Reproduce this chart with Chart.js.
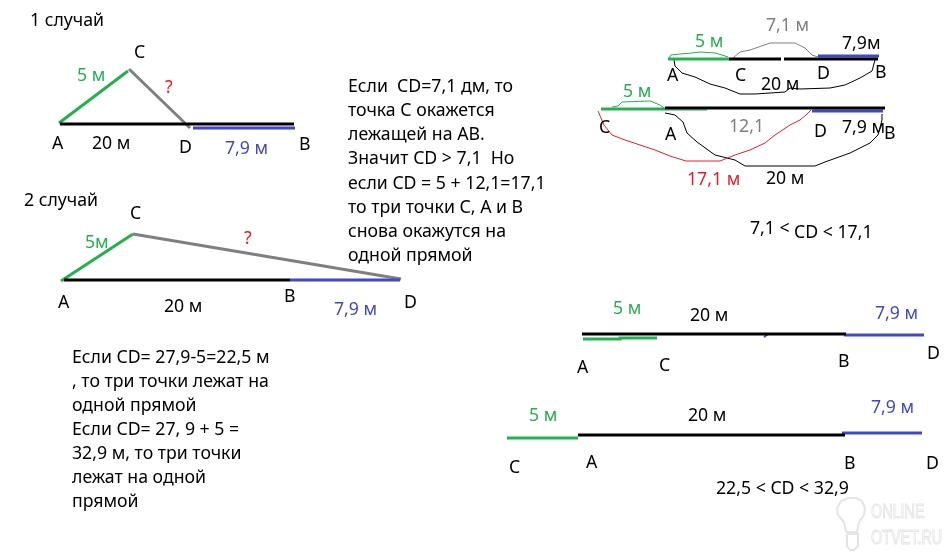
<!DOCTYPE html>
<html>
<head>
<meta charset="utf-8">
<title>Отрезки</title>
<script src="https://cdn.jsdelivr.net/npm/chart.js@4"></script>
<style>
  html, body { margin: 0; padding: 0; background: #fff; }
  canvas { display: block; }
</style>
</head>
<body>
<canvas id="chart" width="948" height="554"></canvas>
<script>
// Цвета рисунка
const BLACK = '#000000', GREEN = '#22b14c', BLUE = '#3f48cc', GRAY = '#7f7f7f', RED = '#ed1c24', MARK = '#e4e4e4';

// Случай 1
const case1AB = [[60,124],[294,124]];
const case1DB = [[193,128],[295,128]];
const case1AC = [[59,123],[128,71]];
const case1CD = [[129,69],[190,128]];

// Случай 2
const case2AB = [[64,280],[290,280]];
const case2BD = [[290,280],[400,280]];
const case2AC = [[61,281],[133,234]];
const case2CD = [[133,234],[401,279]];

// Справа вверху, первая прямая
const top1Black1 = [[729,59],[781,59]];
const top1Black2 = [[784,59],[878,59]];
const top1Green = [[668,59],[729,59]];
const top1Blue = [[818,56],[879,56]];
const top1GreenArc = [[669,58],[671,55],[680,54],[692,53],[700,52],[715,53],[722,55],[728,57]];
const top1GrayArc = [[733,58],[740,52],[750,50],[770,43],[795,43],[805,48],[812,55],[818,57]];
const top1BlackArc = [[674,60],[675,66],[682,73],[695,77],[710,84],[725,88],[740,94],[755,94],[785,92],[790,88],[800,89],[830,88],[845,85],[860,78],[872,71],[875,60]];

// Справа вверху, вторая прямая
const top2Black = [[665,108],[885,108]];
const top2Green = [[601,109],[665,109]];
const top2GreenThin = [[665,110],[707,110]];
const top2Blue = [[812,111],[883,111]];
const top2GreenArc = [[612,107],[618,106],[622,102],[650,101],[660,105],[664,108]];
const top2RedArc = [[598,111],[604,125],[612,135],[625,140],[640,145],[655,150],[670,156],[686,161],[720,161],[735,155],[750,150],[765,143],[775,135],[790,125],[800,120],[806,115],[811,110]];
const top2BlackArc = [[665,113],[675,115],[683,122],[687,133],[697,142],[715,155],[735,160],[745,166],[815,166],[825,162],[850,153],[870,143],[878,135],[882,120],[882,114]];

// Внизу справа
const low1Black = [[582,334],[846,334]];
const low1Green = [[583,339],[620,339],[620,338],[657,338]];
const low1Blue = [[844,335],[924,335]];
const low1Tick = [[764,337],[768,334]];
const low2Black = [[578,435],[845,435]];
const low2Green = [[507,438],[578,438]];
const low2Blue = [[842,433],[922,433]];

// Лампочка водяного знака
const markBulb = [[846,532],[844,522],[838,515],[837,508],[841,501],[848,498],[856,498],[862,501],[865,508],[864,515],[859,522],[857,532],[846,532]];
const markBase = [[847,534],[858,534],[858,546],[854,550],[850,550],[847,546],[847,534]];

const segments = [
  [case1AB, BLACK, 3], [case1DB, BLUE, 3], [case1AC, GREEN, 3], [case1CD, GRAY, 3],
  [case2AB, BLACK, 3], [case2BD, BLUE, 3], [case2AC, GREEN, 3], [case2CD, GRAY, 3],
  [top1Black1, BLACK, 3], [top1Black2, BLACK, 3], [top1Green, GREEN, 3], [top1Blue, BLUE, 3],
  [top1GreenArc, GREEN, 1], [top1GrayArc, GRAY, 1], [top1BlackArc, BLACK, 1],
  [top2Black, BLACK, 3], [top2Green, GREEN, 3], [top2GreenThin, GREEN, 1], [top2Blue, BLUE, 3],
  [top2GreenArc, GREEN, 1], [top2RedArc, RED, 1], [top2BlackArc, BLACK, 1],
  [low1Black, BLACK, 3], [low1Green, GREEN, 3], [low1Blue, BLUE, 3], [low1Tick, BLUE, 2],
  [low2Black, BLACK, 3], [low2Green, GREEN, 3], [low2Blue, BLUE, 3],
  [markBulb, MARK, 2], [markBase, MARK, 2]
];

// Подписи: текст, x, y, цвет
const labels = [
  ['1 случай',30,21,BLACK], ['5 м',77,76,GREEN], ['C',134,53,BLACK], ['?',165,88,RED],
  ['A',52,144,BLACK], ['20 м',92,144,BLACK], ['D',179,148,BLACK], ['7,9 м',225,149,BLUE], ['B',299,145,BLACK],
  ['2 случай',24,201,BLACK], ['C',130,214,BLACK], ['5м',85,243,GREEN], ['?',244,239,RED],
  ['A',58,303,BLACK], ['20 м',164,307,BLACK], ['B',284,297,BLACK], ['7,9 м',334,310,BLUE], ['D',404,303,BLACK],
  ['Если  CD=7,1 дм, то',348,87,BLACK], ['точка С окажется',348,111,BLACK], ['лежащей на АВ.',348,135,BLACK],
  ['Значит CD > 7,1  Но',348,159,BLACK], ['если CD = 5 + 12,1=17,1',348,184,BLACK], ['то три точки С, А и В',348,208,BLACK],
  ['снова окажутся на',348,232,BLACK], ['одной прямой',348,256,BLACK],
  ['Если CD= 27,9-5=22,5 м',72,358,BLACK], [', то три точки лежат на',72,382,BLACK], ['одной прямой',72,406,BLACK],
  ['Если CD= 27, 9 + 5 =',72,430,BLACK], ['32,9 м, то три точки',72,454,BLACK], ['лежат на одной',72,478,BLACK], ['прямой',72,502,BLACK],
  ['7,1 м',766,26,GRAY], ['5 м',695,42,GREEN], ['7,9м',842,44,BLACK], ['A',667,76,BLACK], ['C',735,76,BLACK],
  ['20 м',761,85,BLACK], ['D',817,74,BLACK], ['B',875,73,BLACK],
  ['5 м',623,92,GREEN], ['C',599,128,BLACK], ['A',665,135,BLACK], ['12,1',729,127,GRAY], ['D',814,132,BLACK],
  ['7,9 м',842,128,BLACK], ['B',884,134,BLACK], ['17,1 м',687,180,RED], ['20 м',766,179,BLACK],
  ['7,1 <',750,229,BLACK], ['CD < 17,1',794,233,BLACK],
  ['5 м',613,309,GREEN], ['20 м',690,316,BLACK], ['7,9 м',875,314,BLUE],
  ['A',577,368,BLACK], ['C',659,366,BLACK], ['B',838,362,BLACK], ['D',927,354,BLACK],
  ['5 м',529,416,GREEN], ['20 м',688,416,BLACK], ['7,9 м',871,408,BLUE],
  ['C',509,468,BLACK], ['A',586,463,BLACK], ['B',844,464,BLACK], ['D',926,464,BLACK],
  ['22,5 < CD < 32,9',716,489,BLACK]
];
const watermark = [['ONLINE',871,512], ['OTVET.RU',871,538]];

// Подписи рисуем по тем же шкалам, что и линии
const textPlugin = {
  id: 'textLabels',
  afterDatasetsDraw(chart) {
    const { ctx, scales } = chart;
    ctx.save();
    ctx.textBaseline = 'middle';
    ctx.textAlign = 'left';
    ctx.font = '17.7px "Noto Sans"';
    labels.forEach(([text, x, y, color]) => {
      ctx.fillStyle = color;
      ctx.fillText(text, scales.x.getPixelForValue(x), scales.y.getPixelForValue(y));
    });
    // водяной знак: контурный узкий шрифт
    ctx.font = '20px "Liberation Sans"';
    ctx.strokeStyle = MARK;
    ctx.lineWidth = 1;
    watermark.forEach(([text, x, y]) => {
      ctx.save();
      ctx.translate(scales.x.getPixelForValue(x), scales.y.getPixelForValue(y));
      ctx.scale(0.72, 1);
      ctx.strokeText(text, 0, 0);
      ctx.restore();
    });
    ctx.restore();
  }
};

new Chart(document.getElementById('chart').getContext('2d'), {
  type: 'scatter',
  data: {
    datasets: segments.map(([points, color, width]) => ({
      data: points.map(([x, y]) => ({ x, y })),
      showLine: true,
      borderColor: color,
      borderWidth: width,
      pointRadius: 0,
      tension: 0,
      fill: false
    }))
  },
  options: {
    responsive: false,
    animation: false,
    devicePixelRatio: 1,
    layout: { padding: 0 },
    scales: {
      x: { type: 'linear', min: 0, max: 948, display: false },
      y: { type: 'linear', min: 0, max: 554, reverse: true, display: false }
    },
    plugins: { legend: { display: false }, tooltip: { enabled: false } }
  },
  plugins: [textPlugin]
});
</script>
</body>
</html>
